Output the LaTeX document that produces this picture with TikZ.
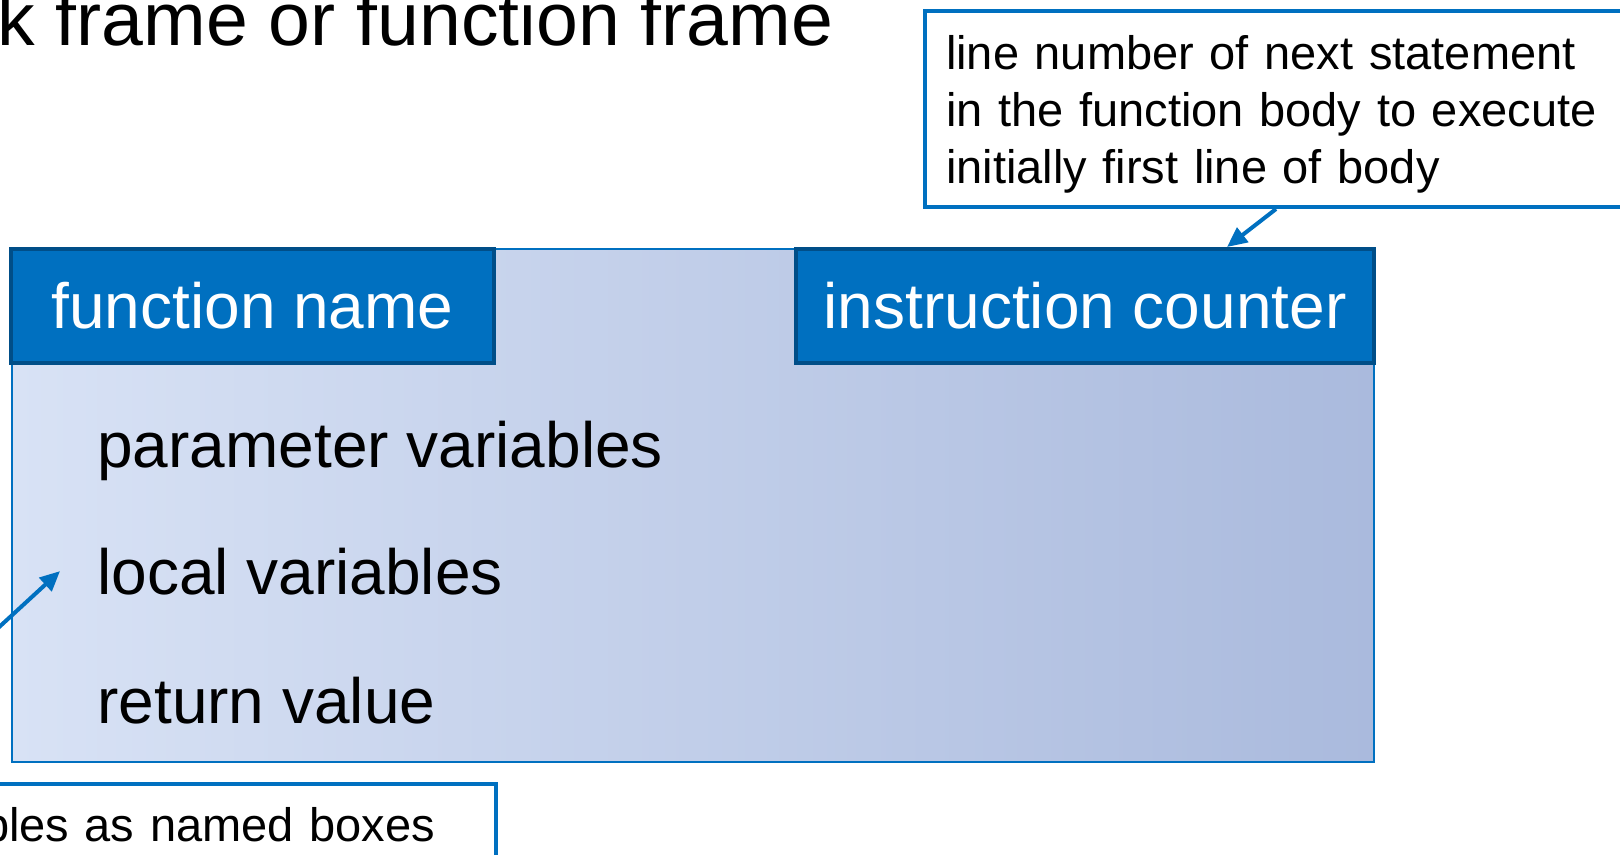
\documentclass[tikz,border=0pt]{standalone}
\usepackage{fontspec}
\setmainfont{Liberation Sans}
\usetikzlibrary{arrows.meta,calc}
\definecolor{frameblue}{HTML}{0070C0}
\definecolor{edgeblue}{HTML}{004E88}
\definecolor{paleleft}{HTML}{D8E2F5}
\definecolor{palemid}{HTML}{B5C7EE}
\definecolor{paleright}{HTML}{AABADD}
\tikzstyle{frame}=[draw=frameblue,line width=1pt,left color=paleleft,middle color=palemid,right color=paleright,minimum width=681pt,minimum height=256.5pt,inner sep=0pt]
\tikzstyle{header}=[draw=edgeblue,fill=frameblue,line width=2pt,text=white,font=\fontsize{32}{38}\selectfont,minimum height=57pt,inner sep=0pt]
\tikzstyle{entry}=[anchor=base west,inner sep=0pt,font=\fontsize{32}{38}\selectfont]
\tikzstyle{callout}=[draw=frameblue,line width=2pt,fill=white,anchor=north west,align=left,font=\fontsize{23.5}{28.5}\selectfont,inner xsep=10.5pt,inner ysep=0pt]
\tikzstyle{pointer}=[draw=frameblue,line width=2pt,-{Triangle[length=10pt,width=9pt]}]

\begin{document}
\begin{tikzpicture}[x=0.5pt,y=-0.5pt]
\useasboundingbox (0,0) rectangle (1620,855);
\clip (0,0) rectangle (1620,855);
\node[anchor=base west,inner sep=0pt,font=\fontsize{37.6}{44}\selectfont] at (-3, 46) (title) {k frame or function frame};
\node[frame] at (693, 505.5) (frame) {};
\node[header,minimum width=241.5pt] at (252.5, 306) (fname) {function name};
\node[header,minimum width=289pt] at (1085, 306) (counter) {instruction counter};
\node[entry] at (97, 467) (params) {parameter variables};
\node[entry] at (97, 594) (local) {local variables};
\node[entry] at (97, 723) (retval) {return value};
\node[callout,text width=360pt,text height=29.5pt,text depth=68.5pt] at (923, 9) (note) {line number of next statement\\in the function body to execute\\initially first line of body};
\node[callout,text width=246pt,text height=28.5pt,text depth=40pt] at (-40, 782) (boxes) {bles as named boxes};
\coordinate (tail) at (-40, 663);
\draw[pointer] ($(note.south west)+(353,0)$) -- ($(counter.north west)+(433,0)$);
\draw[pointer] (tail) -- ($(local.west)+(-37,0)$);
\end{tikzpicture}
\end{document}
